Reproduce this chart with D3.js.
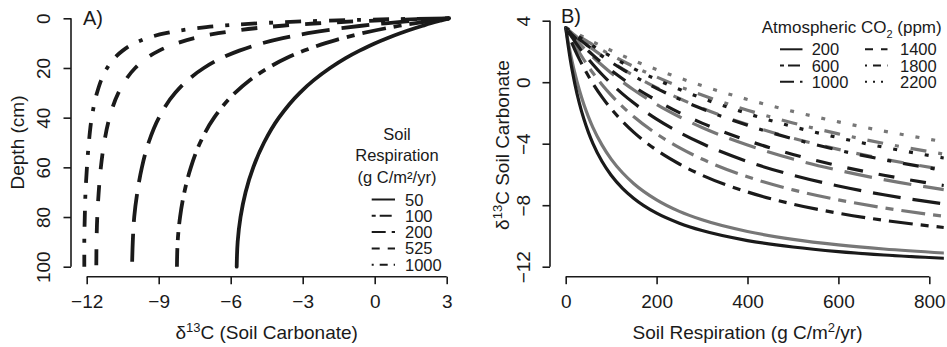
<!DOCTYPE html>
<html>
<head>
<meta charset="utf-8">
<script src="https://cdn.jsdelivr.net/npm/d3@7"></script>
<style>
  body { margin: 0; background: #fff; }
  svg { display: block; font-family: "Liberation Sans", Arial, Helvetica, sans-serif; }
</style>
</head>
<body>
<svg id="chart" width="947" height="347"></svg>
<script>
// ---- Panel A: d13C of soil carbonate with depth, per soil respiration rate
const depthCm = [0, 0.5, 1, 2, 3, 4, 6, 8, 10, 13, 16, 20, 25, 30, 40, 50, 60, 70, 80, 90, 100];
const respLabels = ['50', '100', '200', '525', '1000'];
const d13cResp50 = [3.10, 2.90, 2.71, 2.34, 2.00, 1.67, 1.06, 0.52, 0.02, -0.63, -1.21, -1.86, -2.55, -3.12, -3.99, -4.61, -5.06, -5.38, -5.59, -5.71, -5.75];
const d13cResp100 = [3.10, 2.71, 2.34, 1.65, 1.03, 0.47, -0.51, -1.34, -2.05, -2.94, -3.67, -4.45, -5.22, -5.82, -6.69, -7.27, -7.66, -7.93, -8.11, -8.21, -8.24];
const d13cResp200 = [3.10, 2.34, 1.65, 0.45, -0.55, -1.41, -2.78, -3.83, -4.67, -5.64, -6.38, -7.12, -7.80, -8.31, -8.99, -9.42, -9.70, -9.89, -10.02, -10.08, -10.11];
const d13cResp525 = [3.10, 1.24, -0.22, -2.37, -3.87, -4.98, -6.52, -7.52, -8.23, -8.98, -9.50, -9.98, -10.39, -10.68, -11.05, -11.27, -11.41, -11.50, -11.56, -11.59, -11.60];
const d13cResp1000 = [3.10, -0.10, -2.21, -4.83, -6.39, -7.42, -8.71, -9.48, -9.99, -10.50, -10.84, -11.15, -11.40, -11.57, -11.79, -11.91, -11.99, -12.05, -12.08, -12.10, -12.10];
const xTicksA = [-12, -9, -6, -3, 0, 3];
const yTicksA = [0, 20, 40, 60, 80, 100];

// ---- Panel B: d13C of soil carbonate vs soil respiration, per atmospheric CO2
const respB = [0, 5, 10, 15, 20, 30, 40, 50, 60, 80, 100, 125, 150, 200, 250, 300, 400, 500, 600, 700, 832];
const co2Labels = ['200', '600', '1000', '1400', '1800', '2200'];
// black set
const blk200 = [3.55, 2.46, 1.50, 0.66, -0.09, -1.36, -2.40, -3.26, -3.99, -5.16, -6.05, -6.90, -7.56, -8.52, -9.17, -9.65, -10.30, -10.72, -11.02, -11.24, -11.45];
const blk600 = [3.55, 3.17, 2.80, 2.46, 2.12, 1.50, 0.93, 0.40, -0.09, -0.97, -1.73, -2.55, -3.26, -4.42, -5.32, -6.05, -7.14, -7.93, -8.52, -8.98, -9.45];
const blk1000 = [3.55, 3.32, 3.09, 2.88, 2.66, 2.25, 1.87, 1.50, 1.15, 0.50, -0.09, -0.76, -1.36, -2.40, -3.26, -3.99, -5.16, -6.05, -6.75, -7.32, -7.92];
const blk1400 = [3.55, 3.38, 3.22, 3.06, 2.91, 2.60, 2.31, 2.03, 1.76, 1.25, 0.77, 0.22, -0.29, -1.19, -1.98, -2.66, -3.79, -4.70, -5.44, -6.05, -6.72];
const blk1800 = [3.55, 3.42, 3.29, 3.17, 3.04, 2.80, 2.57, 2.34, 2.12, 1.70, 1.30, 0.84, 0.40, -0.40, -1.10, -1.73, -2.80, -3.68, -4.42, -5.04, -5.74];
const blk2200 = [3.55, 3.44, 3.34, 3.24, 3.13, 2.93, 2.74, 2.55, 2.36, 2.01, 1.67, 1.26, 0.88, 0.17, -0.46, -1.04, -2.04, -2.89, -3.61, -4.23, -4.93];
// grey set
const gry200 = [3.55, 2.70, 1.93, 1.23, 0.60, -0.51, -1.45, -2.25, -2.95, -4.09, -5.00, -5.89, -6.60, -7.65, -8.40, -8.95, -9.71, -10.22, -10.58, -10.85, -11.11];
const gry600 = [3.55, 3.25, 2.97, 2.70, 2.43, 1.93, 1.46, 1.01, 0.60, -0.16, -0.84, -1.59, -2.25, -3.36, -4.26, -5.00, -6.15, -7.00, -7.65, -8.17, -8.72];
const gry1000 = [3.55, 3.37, 3.20, 3.03, 2.86, 2.54, 2.22, 1.93, 1.64, 1.10, 0.60, 0.02, -0.51, -1.45, -2.25, -2.95, -4.09, -5.00, -5.73, -6.34, -6.99];
const gry1400 = [3.55, 3.42, 3.30, 3.17, 3.05, 2.81, 2.58, 2.36, 2.14, 1.72, 1.33, 0.86, 0.43, -0.36, -1.06, -1.69, -2.76, -3.64, -4.37, -5.00, -5.69];
const gry1800 = [3.55, 3.45, 3.35, 3.25, 3.16, 2.97, 2.79, 2.61, 2.43, 2.09, 1.77, 1.38, 1.01, 0.34, -0.28, -0.84, -1.82, -2.65, -3.36, -3.98, -4.68];
const gry2200 = [3.55, 3.47, 3.39, 3.31, 3.23, 3.07, 2.92, 2.77, 2.62, 2.34, 2.06, 1.73, 1.41, 0.82, 0.28, -0.23, -1.12, -1.90, -2.58, -3.18, -3.87];
const xTicksB = [0, 200, 400, 600, 800];
const yTicksB = [-12, -8, -4, 0, 4];

const ink = '#1a1a1a';
const grey = '#777777';

// R-like line types (plot scale); legend uses half scale
const ltyNames = ['solid', 'twodash', 'longdash', 'dashed', 'dotdash', 'dotted'];
const ltyDash = {
  solid: null,
  twodash: [8, 8, 24, 8],
  longdash: [28, 12],
  dashed: [16, 16],
  dotdash: [4, 12, 16, 12],
  dotted: [4, 12]
};
const dashStr = (lty, k) => ltyDash[lty] ? ltyDash[lty].map(v => v * k).join(',') : null;

const seriesA = [
  { label: respLabels[0], values: d13cResp50, lty: 'solid' },
  { label: respLabels[1], values: d13cResp100, lty: 'twodash' },
  { label: respLabels[2], values: d13cResp200, lty: 'longdash' },
  { label: respLabels[3], values: d13cResp525, lty: 'dashed' },
  { label: respLabels[4], values: d13cResp1000, lty: 'dotdash' }
];
const blkSets = [blk200, blk600, blk1000, blk1400, blk1800, blk2200];
const grySets = [gry200, gry600, gry1000, gry1400, gry1800, gry2200];
const seriesB = [];
co2Labels.forEach((lab, i) => {
  seriesB.push({ label: lab, values: grySets[i], lty: ltyNames[i], color: grey });
  seriesB.push({ label: lab, values: blkSets[i], lty: ltyNames[i], color: ink });
});

const svg = d3.select('#chart');
svg.append('rect').attr('width', 947).attr('height', 347).attr('fill', '#fff');

// scales
const xA = d3.scaleLinear().domain([-12, 3]).range([86.7, 446.7]);
const yA = d3.scaleLinear().domain([0, 100]).range([18.3, 266.7]);
const xB = d3.scaleLinear().domain([0, 800]).range([565.7, 929.3]);
const yB = d3.scaleLinear().domain([-12, 4]).range([266.7, 20.7]);

const defs = svg.append('defs');
defs.append('clipPath').attr('id', 'clipA').append('rect')
  .attr('x', xA(-12.6)).attr('y', yA(-4))
  .attr('width', xA(3.6) - xA(-12.6)).attr('height', yA(104) - yA(-4));
defs.append('clipPath').attr('id', 'clipB').append('rect')
  .attr('x', xB(-32)).attr('y', yB(4.64))
  .attr('width', xB(832) - xB(-32)).attr('height', yB(-12.64) - yB(4.64));

// axes, R style
function bottomAxis(scale, ticks, yPos) {
  const ax = svg.append('g').attr('transform', `translate(0,${yPos})`)
    .call(d3.axisBottom(scale).tickValues(ticks).tickSize(7.5).tickSizeOuter(0).tickFormat(d3.format('d')));
  ax.attr('font-size', null).attr('font-family', null);
  ax.select('.domain').remove();
  ax.append('line')
    .attr('x1', scale(ticks[0])).attr('x2', scale(ticks[ticks.length - 1]))
    .attr('stroke', ink).attr('stroke-width', 1.6);
  ax.selectAll('.tick line').attr('stroke', ink).attr('stroke-width', 1.6);
  ax.selectAll('.tick text').attr('y', 31.6).attr('dy', null)
    .attr('fill', ink).style('font-size', '19px');
}
function leftAxis(scale, ticks, xPos, labOff) {
  const ax = svg.append('g').attr('transform', `translate(${xPos},0)`)
    .call(d3.axisLeft(scale).tickValues(ticks).tickSize(7.5).tickSizeOuter(0).tickFormat(d3.format('d')));
  ax.attr('font-size', null).attr('font-family', null);
  ax.select('.domain').remove();
  ax.append('line')
    .attr('y1', scale(ticks[0])).attr('y2', scale(ticks[ticks.length - 1]))
    .attr('stroke', ink).attr('stroke-width', 1.6);
  ax.selectAll('.tick line').attr('stroke', ink).attr('stroke-width', 1.6);
  ax.selectAll('.tick text')
    .attr('x', 0).attr('y', -labOff).attr('dy', null)
    .attr('transform', 'rotate(-90)')
    .style('text-anchor', 'middle').style('font-size', '19px')
    .attr('fill', ink);
}

bottomAxis(xA, xTicksA, 276.7);
leftAxis(yA, yTicksA, 71, 21);
bottomAxis(xB, xTicksB, 276.7);
leftAxis(yB, yTicksB, 550, 20.5);

// titles
function d13cText(sel, rest) {
  sel.append('tspan').text('δ');
  sel.append('tspan').attr('dy', -7).style('font-size', '13px').text('13');
  sel.append('tspan').attr('dy', 7).text(rest);
}
const tA = svg.append('text').attr('x', xA(-4.5)).attr('y', 338.5)
  .attr('text-anchor', 'middle').attr('fill', ink).style('font-size', '19px');
d13cText(tA, 'C (Soil Carbonate)');

svg.append('text').attr('transform', 'translate(23.5,142.5) rotate(-90)')
  .attr('text-anchor', 'middle').attr('fill', ink).style('font-size', '19px')
  .text('Depth (cm)');

const tB = svg.append('text').attr('transform', 'translate(508.5,145) rotate(-90)')
  .attr('text-anchor', 'middle').attr('fill', ink).style('font-size', '19px');
d13cText(tB, 'C Soil Carbonate');

const xtB = svg.append('text').attr('x', xB(400)).attr('y', 338.5)
  .attr('text-anchor', 'middle').attr('fill', ink).style('font-size', '19px');
xtB.append('tspan').text('Soil Respiration (g C/m');
xtB.append('tspan').attr('dy', -7).style('font-size', '13px').text('2');
xtB.append('tspan').attr('dy', 7).text('/yr)');

svg.append('text').attr('x', 83).attr('y', 24.5).attr('fill', ink)
  .style('font-size', '20px').text('A)');
svg.append('text').attr('x', 561).attr('y', 23).attr('fill', ink)
  .style('font-size', '20px').text('B)');

// curves
const lineA = d3.line().x(d => xA(d[1])).y(d => yA(d[0])).curve(d3.curveMonotoneY);
svg.append('g').attr('clip-path', 'url(#clipA)')
  .selectAll('path').data(seriesA).join('path')
  .attr('d', s => lineA(depthCm.map((z, i) => [z, s.values[i]])))
  .attr('fill', 'none').attr('stroke', ink).attr('stroke-width', 3.8)
  .attr('stroke-linecap', s => s.lty === 'solid' ? 'round' : 'butt')
  .attr('stroke-linejoin', 'round')
  .attr('stroke-dasharray', s => dashStr(s.lty, 1));

const lineB = d3.line().x(d => xB(d[0])).y(d => yB(d[1])).curve(d3.curveMonotoneX);
svg.append('g').attr('clip-path', 'url(#clipB)')
  .selectAll('path').data(seriesB).join('path')
  .attr('d', s => lineB(respB.map((r, i) => [r, s.values[i]])))
  .attr('fill', 'none').attr('stroke', s => s.color).attr('stroke-width', 3.2)
  .attr('stroke-linecap', s => s.lty === 'solid' ? 'round' : 'butt')
  .attr('stroke-linejoin', 'round')
  .attr('stroke-dasharray', s => dashStr(s.lty, 1));

// legend A
const legA = svg.append('g').attr('fill', ink).style('font-size', '16.5px');
['Soil', 'Respiration', '(g C/m²/yr)'].forEach((t, i) => {
  legA.append('text').attr('x', 397).attr('y', 139.5 + i * 21.5)
    .attr('text-anchor', 'middle').text(t);
});
seriesA.forEach((s, i) => {
  const y = 199.5 + i * 16.3;
  legA.append('line').attr('x1', 371.7).attr('x2', 395).attr('y1', y).attr('y2', y)
    .attr('stroke', ink).attr('stroke-width', 2)
    .attr('stroke-dasharray', dashStr(s.lty, 0.5));
  legA.append('text').attr('x', 405).attr('y', y + 6).text(s.label);
});

// legend B
const legB = svg.append('g').attr('fill', ink).style('font-size', '16.5px');
const ttl = legB.append('text').attr('x', 941.7).attr('y', 32.8).attr('text-anchor', 'end')
  .style('font-size', '17px');
ttl.append('tspan').text('Atmospheric CO');
ttl.append('tspan').attr('dy', 5).style('font-size', '11px').text('2');
ttl.append('tspan').attr('dy', -5).text(' (ppm)');
co2Labels.forEach((lab, i) => {
  const col = Math.floor(i / 3), row = i % 3;
  const y = 49.3 + row * 16.2;
  const x0 = col === 0 ? 780 : 865;
  legB.append('line').attr('x1', x0).attr('x2', x0 + 22.5).attr('y1', y).attr('y2', y)
    .attr('stroke', ink).attr('stroke-width', 2)
    .attr('stroke-dasharray', dashStr(ltyNames[i], 0.5));
  legB.append('text').attr('x', col === 0 ? 811.7 : 900).attr('y', y + 6).text(lab);
});
</script>
</body>
</html>
